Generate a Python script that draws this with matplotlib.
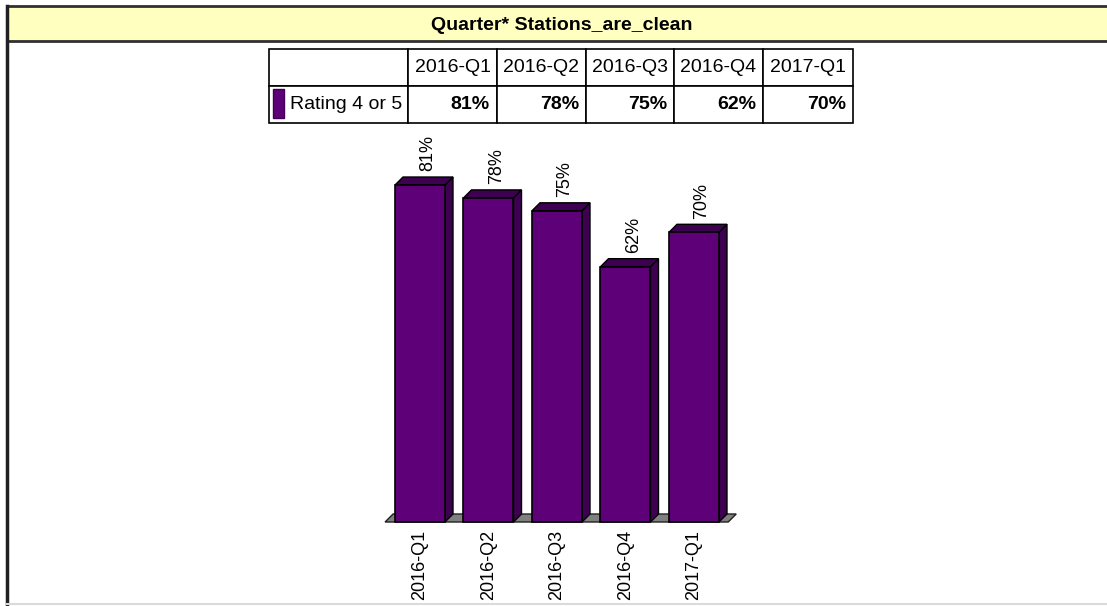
import matplotlib
matplotlib.use('Agg')
import matplotlib.pyplot as plt
from matplotlib.patches import Polygon, Rectangle

# Data
quarters = ['2016-Q1', '2016-Q2', '2016-Q3', '2016-Q4', '2017-Q1']
rating_4_or_5 = [81, 78, 75, 62, 70]
series_name = 'Rating 4 or 5'
chart_title = 'Quarter* Stations_are_clean'

plt.rcParams['font.family'] = ['Liberation Sans', 'DejaVu Sans']

W, H = 1107, 606
fig = plt.figure(figsize=(W / 100, H / 100), dpi=100)

front_col = '#5E0078'
dark_col = '#3E0050'


def px_axes(x0, y0, x1, y1):
    # box in pixels, measured from the top left corner
    return fig.add_axes([x0 / W, 1 - y1 / H, (x1 - x0) / W, (y1 - y0) / H])


# Frame, title bar and table on a full figure overlay
over = px_axes(0, 0, W, H)
over.set_xlim(0, W)
over.set_ylim(H, 0)
over.axis('off')
over.add_patch(Rectangle((7, 6), W, 35, facecolor='#FFFFC0', edgecolor='#303030', lw=2))
over.plot([7, 7], [6, 604], color='#202020', lw=2.5)
over.plot([7, W], [604, 604], color='#DADADA', lw=1.5)
over.text(562, 25, chart_title, ha='center', va='center', fontsize=14, fontweight='bold')

cells = [[''] + quarters, [series_name] + [f'{v}%' for v in rating_4_or_5]]
col_w = [139, 89, 89, 88, 89, 90]
tab = over.table(cellText=cells, colWidths=[c / sum(col_w) for c in col_w],
                 bbox=[269 / W, 1 - 123 / H, 584 / W, 74 / H])
tab.auto_set_font_size(False)
tab.set_fontsize(14)
for (r, c), cell in tab.get_celld().items():
    cell.set_edgecolor('black')
    cell.set_linewidth(1.2)
    if r == 0:
        cell._loc = 'center'
        cell.get_text().set_ha('center')
    elif c == 0:
        cell._loc = 'left'
        cell.get_text().set_ha('left')
        cell.PAD = 0.15
    else:
        cell._loc = 'right'
        cell.get_text().set_ha('right')
        cell.get_text().set_fontweight('bold')
        cell.PAD = 0.08
over.add_patch(Rectangle((273, 89), 11, 29, facecolor=front_col, edgecolor=dark_col, lw=1))

# Bar chart with a simple 3D look
ax = px_axes(385, 130, 737, 522)
xlim = (-0.511, 4.628)
ylim = (2.6, 93.8)
ax.set_xlim(*xlim)
ax.set_ylim(*ylim)
for s in ax.spines.values():
    s.set_visible(False)
ax.set_yticks([])

depth_px = 8
dx = depth_px * (xlim[1] - xlim[0]) / (737 - 385)
dy = depth_px * (ylim[1] - ylim[0]) / (522 - 130)
y0 = ylim[0]
bw = 0.73

ax.add_patch(Polygon([(-0.51, y0), (4.5, y0), (4.5 + dx, y0 + dy), (-0.51 + dx, y0 + dy)],
                     closed=True, facecolor='#808080', edgecolor='#202020', lw=1, clip_on=False))

xs = list(range(len(quarters)))
for x, v in zip(xs, rating_4_or_5):
    l, r = x - bw / 2, x + bw / 2
    ax.add_patch(Polygon([(r, y0), (r + dx, y0 + dy), (r + dx, v + dy), (r, v)],
                         closed=True, facecolor=dark_col, edgecolor='black', lw=1, clip_on=False))
    ax.add_patch(Polygon([(l, v), (r, v), (r + dx, v + dy), (l + dx, v + dy)],
                         closed=True, facecolor=dark_col, edgecolor='black', lw=1, clip_on=False))
    ax.annotate(f'{v}%', (x + dx, v + dy), xytext=(0, 4), textcoords='offset points',
                ha='center', va='bottom', rotation=90, fontsize=13)

ax.bar(xs, [v - y0 for v in rating_4_or_5], bottom=y0, width=bw, color=front_col,
       edgecolor='black', linewidth=1.2, clip_on=False, zorder=3)

ax.set_xticks(xs)
ax.set_xticklabels(quarters, rotation=90, fontsize=13)
ax.tick_params(axis='x', length=0, pad=6)

fig.savefig('out.png', dpi=100)
